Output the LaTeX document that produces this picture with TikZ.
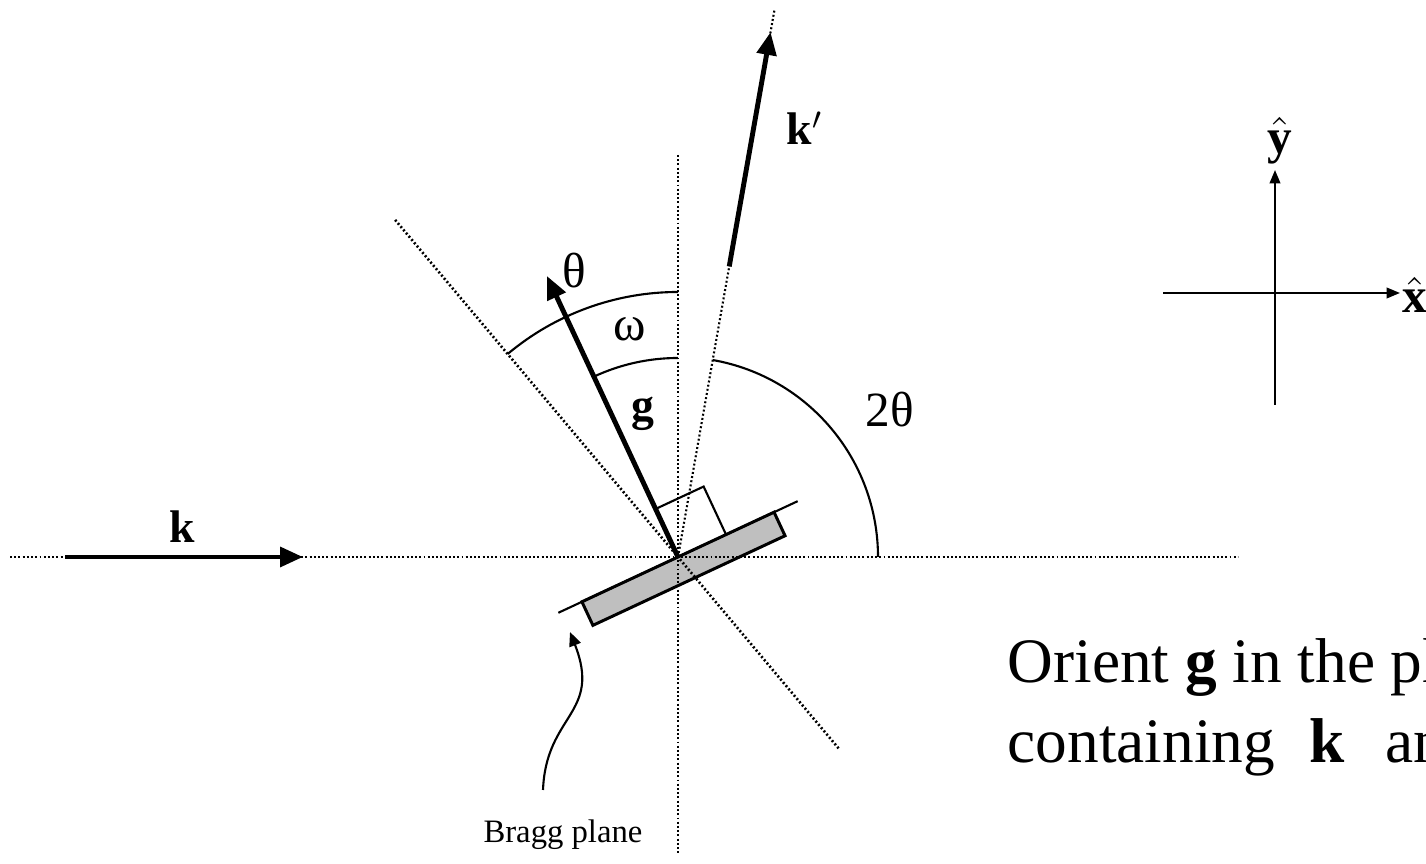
\documentclass[tikz,border=0pt]{standalone}
\usepackage{fontspec}
\setmainfont{Liberation Serif}
\usetikzlibrary{arrows.meta,positioning,calc}

\begin{document}
\begin{tikzpicture}[x=0.01cm,y=0.01cm,
    dotline/.style={line width=0.75pt,dash pattern=on 0.55pt off 0.65pt},
    vecline/.style={line width=1.4pt,-{Triangle[length=6.5pt,width=5.5pt]}},
    axisline/.style={line width=0.6pt,-{Triangle[length=3.8pt,width=3pt]}},
    thinline/.style={line width=0.6pt},
    veclbl/.style={inner sep=0pt,font=\fontsize{13}{15}\selectfont\bfseries},
    anglbl/.style={inner sep=0pt,font=\fontsize{14}{16}\selectfont},
    notelbl/.style={inner sep=0pt,anchor=base west,font=\fontsize{18}{21}\selectfont}]
    \clip (0,0) rectangle (1426,864);

    % origin, Bragg plane
    \coordinate (o) at (678,307);
    \begin{scope}[shift={(o)},rotate=25]
        \draw[line width=0.85pt,fill=black!25] (-106,0) rectangle (106,-26);
    \end{scope}
    \coordinate (pl1) at ($(o)+(205:132)$);
    \coordinate (pl2) at ($(o)+(25:132)$);
    \draw[thinline] (pl1) -- (pl2);

    % dotted guide lines
    \coordinate (hleft) at (10,307);
    \coordinate (hright) at (1238,307);
    \coordinate (vtop) at (678,709);
    \coordinate (vbot) at (678,9);
    \coordinate (dtop) at ($(o)+(130:440)$);
    \coordinate (dbot) at ($(o)+(-50:250)$);
    \coordinate (kptop) at ($(o)+(80:555)$);
    \draw[dotline] (hleft) -- (hright);
    \draw[dotline] (vtop) -- (vbot);
    \draw[dotline] (dtop) -- (dbot);
    \draw[dotline,line width=0.6pt] (o) -- (kptop);

    % vectors
    \coordinate (k0) at (65,307);
    \coordinate (k1) at (303,307);
    \coordinate (gtip) at ($(o)+(115:310)$);
    \coordinate (kp0) at ($(o)+(80:295)$);
    \coordinate (kp1) at ($(o)+(80:533)$);
    \draw[vecline] (k0) -- (k1);
    \draw[vecline] (o) -- (gtip);
    \draw[vecline] (kp0) -- (kp1);

    % right angle and arcs
    \coordinate (sq1) at ($(o)+(115:53)$);
    \coordinate (sq2) at ($(sq1)+(25:53)$);
    \coordinate (sq3) at ($(o)+(25:53)$);
    \draw[thinline] (sq1) -- (sq2) -- (sq3);
    \draw[thinline] ($(o)+(90:265)$) arc (90:130:265);
    \draw[thinline] ($(o)+(90:199)$) arc (90:115:199);
    \draw[thinline] ($(o)+(0:200)$) arc (0:80:200);

    \node[veclbl] (klbl) at (182,337) {k};
    \node[veclbl] (kplbl) at (805,736) {$\mathbf{k}'$};
    \node[veclbl] (glbl) at (643,450) {g};
    \node[anglbl] (thlbl) at (574,593) {θ};
    \node[anglbl] (omlbl) at (630,535) {ω};
    \node[anglbl] (tthlbl) at (890,454) {2θ};

    % Bragg plane label
    \node[inner sep=0pt,anchor=base,font=\fontsize{9.3}{11}\selectfont] (bragg) at (563,21) {Bragg plane};
    \coordinate (btail) at (543,74);
    \coordinate (bhead) at (570,232);
    \draw[thinline,-{Triangle[length=4pt,width=3.4pt]}] (btail) .. controls (546,150) and (602,150) .. (bhead);

    % axes
    \coordinate (xl) at (1163,571);
    \coordinate (xr) at (1400,571);
    \coordinate (yb) at (1275,459);
    \coordinate (yt) at (1275,694);
    \draw[axisline] (xl) -- (xr);
    \draw[axisline] (yb) -- (yt);
    \node[veclbl,font=\fontsize{14}{16}\selectfont] (ylbl) at (1280,723) {$\hat{\mathbf{y}}$};
    \node[veclbl,font=\fontsize{14}{16}\selectfont] (xlbl) at (1415,569) {$\hat{\mathbf{x}}$};

    % note
    \node[notelbl] (note1) at (1007,181) {Orient \textbf{g} in the plane};
    \node[notelbl] (note2) at (1007,101) {containing\hspace{0.35cm}\textbf{k}\hspace{0.4cm}and};
\end{tikzpicture}
\end{document}
